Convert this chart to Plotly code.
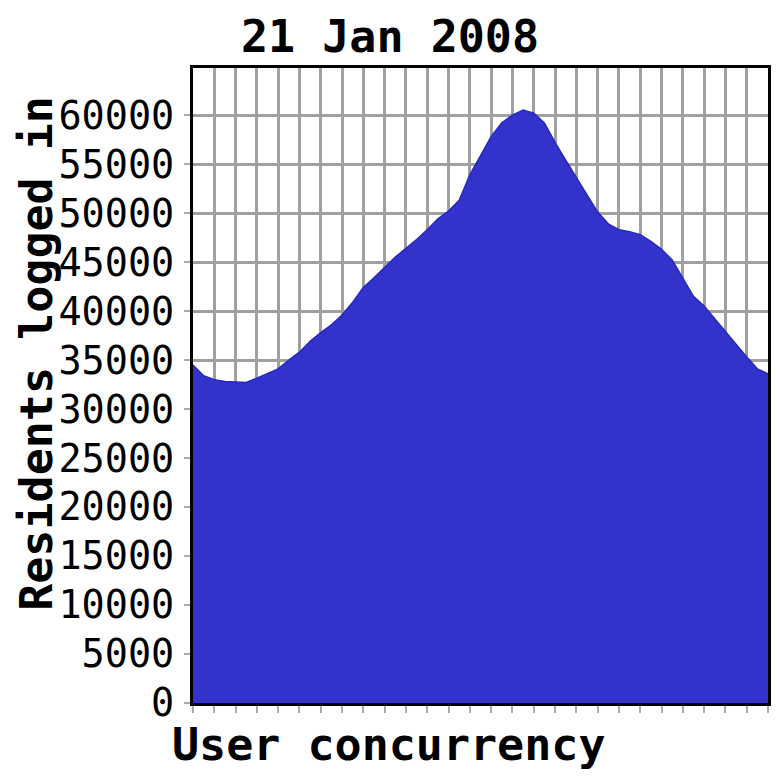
import plotly.graph_objects as go

# one sample every half grid division
step = [k * 0.5 for k in range(55)]
residents = [
    34500, 33400, 33000, 32800, 32750, 32700, 33150, 33600, 34100, 35000,
    35800, 36900, 37800, 38600, 39600, 40900, 42400, 43400, 44500, 45500,
    46400, 47300, 48300, 49400, 50200, 51300, 53900, 55900, 57800, 59200,
    60000, 60500, 60200, 59200, 57200, 55400, 53600, 51800, 50100, 48900,
    48300, 48100, 47800, 47100, 46300, 45200, 43400, 41500, 40500, 39200,
    37800, 36600, 35300, 34100, 33600,
]
y_ticks = list(range(0, 60001, 5000))

mono = "DejaVu Sans Mono"

# page has an 8px body margin, so the figure is 764 wide to fit the 780 window
W = H = 764
L, R, T, B = 185, 1, 60, 69
pw, ph = W - L - R, H - T - B

fig = go.Figure(go.Scatter(
    x=step, y=residents,
    mode="lines",
    fill="tozeroy",
    fillcolor="#3333cc",
    line=dict(color="#2626c0", width=1.5),
    hoverinfo="skip",
))

fig.update_layout(
    width=W, height=H,
    margin=dict(l=L, r=R, t=T, b=B),
    paper_bgcolor="white",
    plot_bgcolor="white",
    showlegend=False,
    title=dict(text="<b>21 Jan 2008</b>", x=0.5, xref="container", xanchor="center",
               y=1 - 28 / H, yref="container", yanchor="middle",
               font=dict(family=mono, size=45, color="black")),
    xaxis=dict(range=[0, 27], dtick=1, tick0=0, showticklabels=False,
               ticks="outside", ticklen=7, tickwidth=2, tickcolor="#aaaaaa",
               showgrid=True, gridcolor="#a0a0a0", gridwidth=2.5,
               showline=True, linecolor="black", linewidth=3, mirror=True,
               zeroline=False, fixedrange=True),
    yaxis=dict(range=[0, 64800], tickvals=y_ticks, ticktext=[str(v) for v in y_ticks],
               ticks="outside", ticklen=6, tickwidth=2, tickcolor="#aaaaaa",
               ticklabelstandoff=2,
               tickfont=dict(family=mono, size=38.5, color="black"),
               showgrid=True, gridcolor="#a0a0a0", gridwidth=2.5,
               showline=True, linecolor="black", linewidth=3, mirror=True,
               zeroline=False, fixedrange=True),
    annotations=[
        dict(text="<b>User concurrency</b>", xref="paper", yref="paper",
             x=(382 - L) / pw, y=-(736 - (H - B)) / ph, xanchor="center", yanchor="middle",
             showarrow=False, font=dict(family=mono, size=45, color="black")),
        dict(text="<b>Residents logged in</b>", xref="paper", yref="paper",
             x=-(L - 27) / pw, y=((H - B) - 345) / ph, xanchor="center", yanchor="middle",
             textangle=-90, showarrow=False,
             font=dict(family=mono, size=45, color="black")),
    ],
)

fig.write_html("out.html")
